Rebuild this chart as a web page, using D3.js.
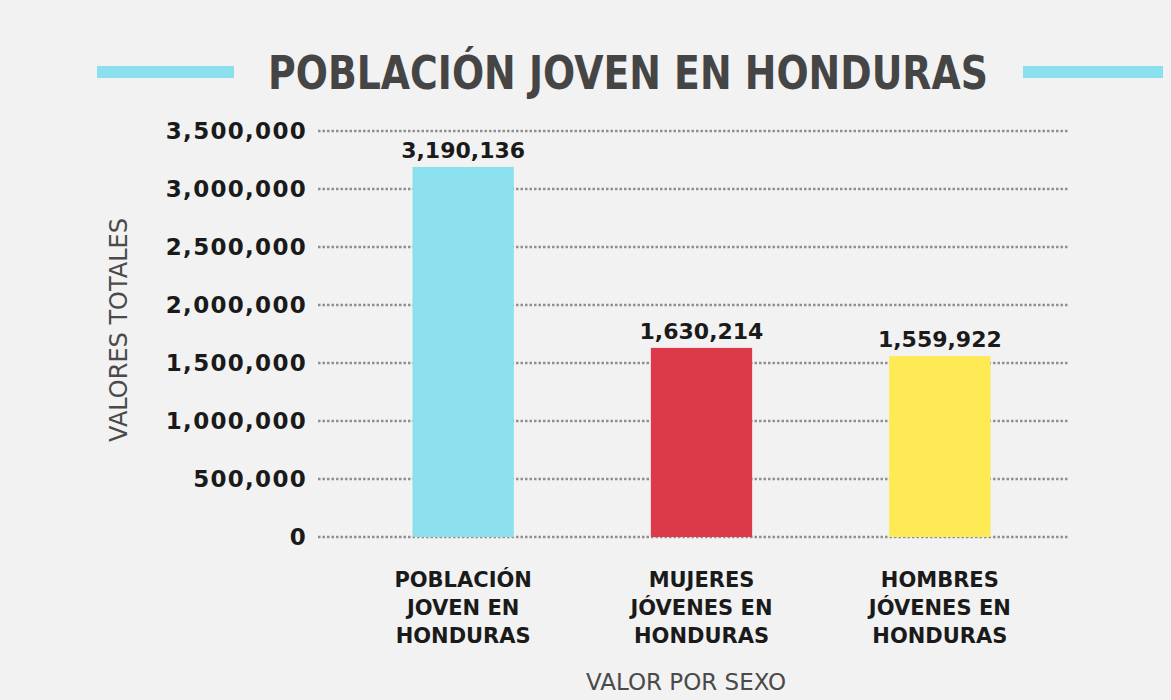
<!DOCTYPE html>
<html>
<head>
<meta charset="utf-8">
<script src="https://cdn.jsdelivr.net/npm/d3@7"></script>
<style>
  body { margin: 0; background: #f2f2f2; }
  svg { display: block; }
</style>
</head>
<body>
<svg id="chart" width="1171" height="700"></svg>
<script>
// data
let categories = ["POBLACIÓN JOVEN EN HONDURAS", "MUJERES JÓVENES EN HONDURAS", "HOMBRES JÓVENES EN HONDURAS"]
let categoryLines = [["POBLACIÓN", "JOVEN EN", "HONDURAS"], ["MUJERES", "JÓVENES EN", "HONDURAS"], ["HOMBRES", "JÓVENES EN", "HONDURAS"]]
let values = [3190136, 1630214, 1559922]
let barColors = ["#8ce0ee", "#dc3a48", "#fdea55"]
let yTicks = [0, 500000, 1000000, 1500000, 2000000, 2500000, 3000000, 3500000]
let title = "POBLACIÓN JOVEN EN HONDURAS"
let yTitle = "VALORES TOTALES"
let xTitle = "VALOR POR SEXO"

let svg = d3.select("#chart");
let width = +svg.attr("width");
let height = +svg.attr("height");

svg.append("rect").attr("width", width).attr("height", height).attr("fill", "#f2f2f2");

let y = d3.scaleLinear().domain([0, 3500000]).range([537, 131]);
let x = d3.scaleBand().domain(categories).range([341, 1062]).paddingInner(0.575).paddingOuter(0.3);

let fmt = d3.format(",");

// title with cyan rules each side
svg.append("rect").attr("x", 97).attr("y", 66).attr("width", 137).attr("height", 12).attr("fill", "#8ce0ee");
svg.append("rect").attr("x", 1023).attr("y", 66).attr("width", 140).attr("height", 12).attr("fill", "#8ce0ee");
svg.append("text")
	.attr("x", 628).attr("y", 89)
	.attr("text-anchor", "middle")
	.attr("textLength", 720).attr("lengthAdjust", "spacingAndGlyphs")
	.attr("font-family", "DejaVu Sans").attr("font-weight", "bold").attr("font-size", 46)
	.attr("fill", "#454545")
	.text(title);

// dotted grid lines
let grid = svg.append("g");
grid.selectAll("line").data(yTicks).enter().append("line")
	.attr("x1", 318).attr("x2", 1068)
	.attr("y1", d => y(d)).attr("y2", d => y(d))
	.attr("stroke", "#8f8f8f").attr("stroke-width", 2.5)
	.attr("stroke-dasharray", "2.5,2");

// y tick labels
svg.append("g").selectAll("text").data(yTicks).enter().append("text")
	.attr("x", 307).attr("y", d => y(d) + 8)
	.attr("text-anchor", "end")
	.attr("font-family", "DejaVu Sans").attr("font-weight", "bold").attr("font-size", 23)
	.attr("letter-spacing", 1.3)
	.attr("fill", "#1a1a1a")
	.text(d => fmt(d));

// bars
svg.append("g").selectAll("rect").data(values).enter().append("rect")
	.attr("x", (d, i) => x(categories[i]))
	.attr("width", x.bandwidth())
	.attr("y", d => y(d))
	.attr("height", d => y(0) - y(d))
	.attr("fill", (d, i) => barColors[i]);

// value labels
svg.append("g").selectAll("text").data(values).enter().append("text")
	.attr("x", (d, i) => x(categories[i]) + x.bandwidth() / 2)
	.attr("y", d => y(d) - 9)
	.attr("text-anchor", "middle")
	.attr("font-family", "DejaVu Sans").attr("font-weight", "bold").attr("font-size", 22)
	.attr("fill", "#1a1a1a")
	.text(d => fmt(d));

// category labels
let cat = svg.append("g").selectAll("text").data(categoryLines).enter().append("text")
	.attr("text-anchor", "middle")
	.attr("font-family", "DejaVu Sans").attr("font-weight", "bold").attr("font-size", 21)
	.attr("fill", "#1a1a1a");
cat.selectAll("tspan").data((d, i) => d.map(t => ({t: t, i: i}))).enter().append("tspan")
	.attr("x", d => x(categories[d.i]) + x.bandwidth() / 2)
	.attr("y", (d, j) => 587 + j * 28)
	.text(d => d.t);

// axis titles
svg.append("text")
	.attr("transform", "translate(127,330) rotate(-90)")
	.attr("text-anchor", "middle")
	.attr("font-family", "DejaVu Sans").attr("font-size", 24)
	.attr("fill", "#4a4a4a")
	.text(yTitle);

svg.append("text")
	.attr("x", 686).attr("y", 690)
	.attr("text-anchor", "middle")
	.attr("font-family", "DejaVu Sans").attr("font-size", 23)
	.attr("fill", "#4a4a4a")
	.text(xTitle);
</script>
</body>
</html>
